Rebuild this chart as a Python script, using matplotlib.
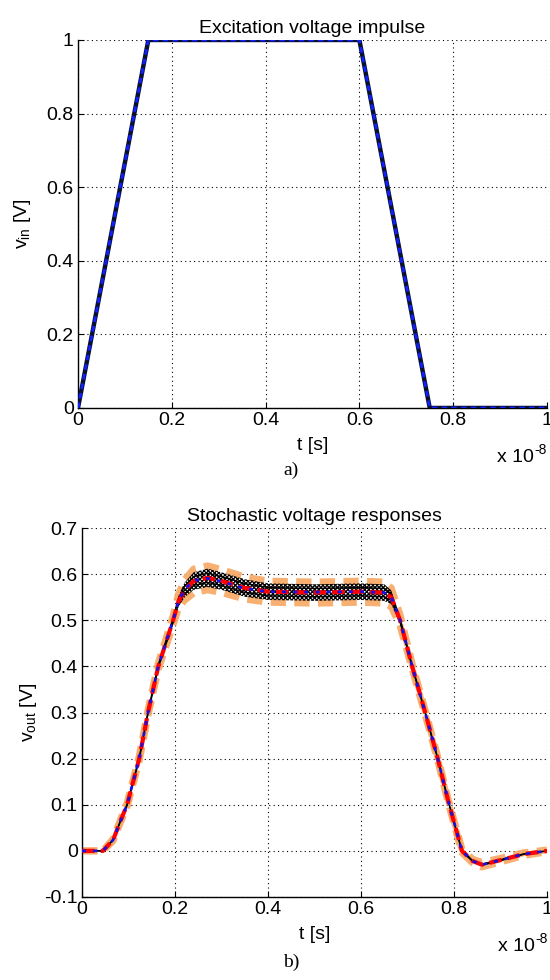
import matplotlib
matplotlib.use("Agg")
import matplotlib.pyplot as plt
import numpy as np

plt.rcParams['font.family'] = ['Liberation Sans', 'DejaVu Sans']
plt.rcParams['mathtext.fontset'] = 'custom'
plt.rcParams['mathtext.rm'] = 'Liberation Sans'
plt.rcParams['mathtext.it'] = 'Liberation Sans:italic'
plt.rcParams['hatch.linewidth'] = 0.9

# ---------------- data ----------------
# (a) excitation voltage impulse, t in units of 1e-8 s
t_in = [0.0, 0.15, 0.60, 0.75, 1.0]
v_in = [0.0, 1.0, 1.0, 0.0, 0.0]

# (b) stochastic voltage responses, t in units of 1e-8 s
t_out = [0.0, 0.045, 0.067, 0.082, 0.097, 0.123, 0.142, 0.164, 0.196, 0.207,
         0.22, 0.24, 0.27, 0.30, 0.35, 0.40, 0.50, 0.60, 0.65, 0.665,
         0.684, 0.71, 0.738, 0.765, 0.787, 0.817, 0.84, 0.86, 0.90, 0.95, 1.0]
v_mean = [0.0, 0.0, 0.024, 0.063, 0.10, 0.20, 0.30, 0.40, 0.50, 0.54,
          0.565, 0.585, 0.592, 0.585, 0.570, 0.562, 0.560, 0.562, 0.560, 0.550,
          0.50, 0.40, 0.30, 0.20, 0.11, 0.0, -0.022, -0.030, -0.020, -0.007, 0.0]
v_pc = [0.0, 0.0, 0.024, 0.063, 0.10, 0.20, 0.30, 0.40, 0.50, 0.54,
        0.566, 0.586, 0.591, 0.584, 0.569, 0.562, 0.561, 0.562, 0.560, 0.550,
        0.50, 0.40, 0.30, 0.20, 0.11, 0.0, -0.022, -0.030, -0.020, -0.007, 0.0]
v_band = [0.0, 0.0, 0.002, 0.003, 0.004, 0.005, 0.006, 0.007, 0.010, 0.015,
          0.022, 0.026, 0.026, 0.025, 0.024, 0.023, 0.023, 0.023, 0.023, 0.020,
          0.012, 0.006, 0.005, 0.004, 0.004, 0.004, 0.004, 0.005, 0.004, 0.003, 0.002]
v_spread = [0.0, 0.0, 0.001, 0.002, 0.003, 0.004, 0.005, 0.006, 0.008, 0.012,
            0.016, 0.019, 0.020, 0.019, 0.019, 0.018, 0.018, 0.018, 0.018, 0.015,
            0.008, 0.004, 0.003, 0.002, 0.002, 0.002, 0.002, 0.002, 0.002, 0.001, 0.0]

x_ticks = [0, 0.2, 0.4, 0.6, 0.8, 1.0]
x_ticklabels = ['0', '0.2', '0.4', '0.6', '0.8', '1']
ya_ticks = [0, 0.2, 0.4, 0.6, 0.8, 1.0]
ya_ticklabels = ['0', '0.2', '0.4', '0.6', '0.8', '1']
yb_ticks = [-0.1, 0, 0.1, 0.2, 0.3, 0.4, 0.5, 0.6, 0.7]
yb_ticklabels = ['-0.1', '0', '0.1', '0.2', '0.3', '0.4', '0.5', '0.6', '0.7']

SCALE = 1e-8
FS = 14

fig = plt.figure(figsize=(5.5, 9.8), dpi=100)
ax1 = fig.add_axes([0.1418, 0.5837, 0.8527, 0.3755])
ax2 = fig.add_axes([0.1491, 0.0847, 0.8455, 0.3765])


def style(ax, yticks, yticklabels, ylim):
    ax.set_xlim(0, 1.0 * SCALE)
    ax.set_ylim(*ylim)
    ax.set_xticks([x * SCALE for x in x_ticks])
    ax.set_xticklabels(x_ticklabels, fontsize=FS)
    ax.set_yticks(yticks)
    ax.set_yticklabels(yticklabels, fontsize=FS)
    ax.spines['top'].set_visible(False)
    ax.spines['right'].set_visible(False)
    ax.spines['left'].set_linewidth(1.0)
    ax.spines['bottom'].set_linewidth(1.0)
    ax.tick_params(direction='in', length=4, width=0.8, pad=3)
    ax.grid(True, color='black', linestyle=(0, (1, 3)), linewidth=0.8)
    ax.set_axisbelow(True)


def exponent(ax):
    ax.text(0.973, -0.135, 'x 10', transform=ax.transAxes,
            ha='right', va='center', fontsize=FS)
    ax.text(0.974, -0.113, '-8', transform=ax.transAxes,
            ha='left', va='center', fontsize=10)


# (a)
ta = np.array(t_in) * SCALE
ax1.plot(ta, v_in, color='#0a1030', lw=3.2, solid_capstyle='butt', zorder=3)
ax1.plot(ta, v_in, color='#1020ff', lw=2.0, linestyle=(0, (2, 1.5)), zorder=4)
style(ax1, ya_ticks, ya_ticklabels, (0, 1))
ax1.set_title('Excitation voltage impulse', fontsize=FS, pad=5)
ax1.set_xlabel('t [s]', fontsize=FS, labelpad=6)
ax1.set_ylabel(r'v$_{\rm in}$ [V]', fontsize=FS, labelpad=10)
exponent(ax1)

# (b)
tb = np.array(t_out) * SCALE
vm = np.array(v_mean)
vb = np.array(v_band)
vs = np.array(v_spread)
orange = '#F7A862'
ax2.plot(tb, vm + vb, color=orange, lw=5, linestyle=(0, (2.2, 1.2)), alpha=0.9, zorder=2)
ax2.plot(tb, vm - vb, color=orange, lw=5, linestyle=(0, (2.2, 1.2)), alpha=0.9, zorder=2)
ax2.fill_between(tb, vm - vs, vm + vs, facecolor='none', edgecolor='black',
                 hatch='xxxxxxxx', linewidth=0, zorder=3)
ax2.plot(tb, vm + vs * 0.5, color='black', lw=1.0, zorder=3)
ax2.plot(tb, vm - vs * 0.5, color='black', lw=1.0, zorder=3)
ax2.plot(tb, vm, color='#ff0000', lw=3.0, linestyle=(0, (3, 1.5)), zorder=4)
ax2.plot(tb, v_pc, color='#1a10e0', lw=2.0, linestyle=(0, (1.5, 2.5)), zorder=5)
style(ax2, yb_ticks, yb_ticklabels, (-0.1, 0.7))
ax2.set_title('Stochastic voltage responses', fontsize=FS, pad=5)
ax2.set_xlabel('t [s]', fontsize=FS, labelpad=6)
ax2.set_ylabel(r'v$_{\rm out}$ [V]', fontsize=FS, labelpad=4)
exponent(ax2)

fig.text(291 / 550, 1 - 470 / 980, 'a)', ha='center', va='center',
         fontsize=14, family='Liberation Serif')
fig.text(291 / 550, 1 - 962 / 980, 'b)', ha='center', va='center',
         fontsize=14, family='Liberation Serif')

fig.savefig('out.png', dpi=100)
